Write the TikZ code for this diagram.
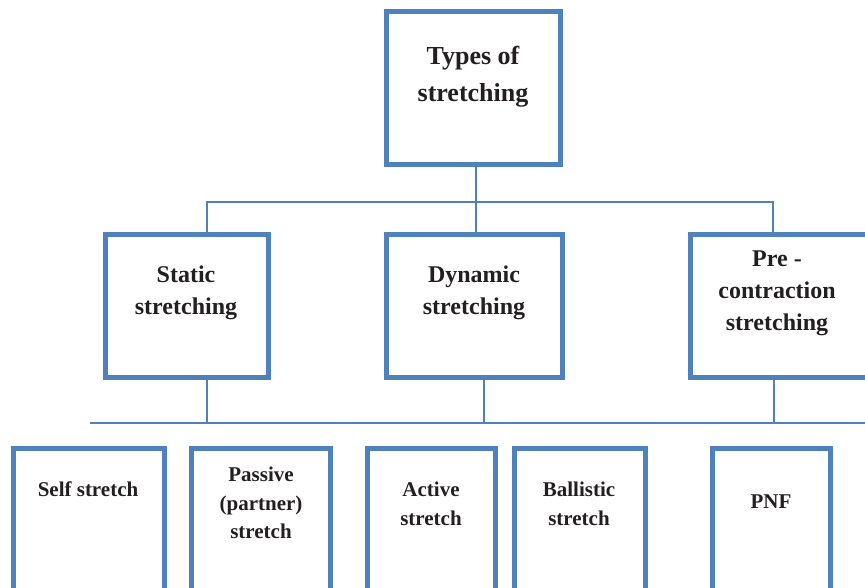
\documentclass[tikz,border=0pt]{standalone}
\usepackage{fontspec}
\setmainfont{Liberation Serif}
\definecolor{boxblue}{HTML}{4F81BD}
\definecolor{inkblack}{HTML}{231F20}

\begin{document}
\begin{tikzpicture}[x=1pt, y=-1pt]
        \tikzset{
            box/.style={rectangle, draw=boxblue, line width=5pt, inner sep=0pt},
            link/.style={draw=boxblue, line width=2pt},
            lbl/.style={anchor=north, align=center, inner sep=0pt, text=inkblack},
            bigtxt/.style={lbl, font=\fontsize{26}{37}\selectfont\bfseries},
            midtxt/.style={lbl, font=\fontsize{24}{32}\selectfont\bfseries},
            smalltxt/.style={lbl, font=\fontsize{21}{28.5}\selectfont\bfseries},
        }
        \clip (0,0) rectangle (865,587);
        
        \node[box, minimum width=174, minimum height=153] (types) at (473.5,88) {};
        
        \node[box, minimum width=163, minimum height=143] (static) at (187,306) {};
        \node[box, minimum width=176, minimum height=143] (dynamic) at (474.5,306) {};
        \node[box, minimum width=182, minimum height=143] (pre) at (781.5,306) {};
        
        \node[box, minimum width=151, minimum height=151] (self) at (89,524) {};
        \node[box, minimum width=139, minimum height=151] (passive) at (261,524) {};
        \node[box, minimum width=128, minimum height=151] (active) at (431.5,524) {};
        \node[box, minimum width=131, minimum height=151] (ballistic) at (580,524) {};
        \node[box, minimum width=118, minimum height=151] (pnf) at (771.5,524) {};
        
        \node[bigtxt] (typestxt) at (473,46) {Types of\\stretching};
        
        \node[midtxt] (statictxt) at (186,266) {Static\\stretching};
        \node[midtxt] (dynamictxt) at (474,266) {Dynamic\\stretching};
        \node[midtxt] (pretxt) at (777,251) {Pre -\\contraction\\stretching};
        
        \node[smalltxt] (selftxt) at (88,482) {Self stretch};
        \node[smalltxt] (passivetxt) at (261,467) {Passive\\(partner)\\stretch};
        \node[smalltxt] (activetxt) at (431,482) {Active\\stretch};
        \node[smalltxt] (ballistictxt) at (579,482) {Ballistic\\stretch};
        \node[smalltxt] (pnftxt) at (771,495) {PNF};
        
        \coordinate (stem) at (476,202);
        \coordinate (topbusl) at (207,202);
        \coordinate (topbusr) at (773,202);
        \coordinate (lowbusl) at (90,423);
        \coordinate (lowbusr) at (870,423);
        \coordinate (dropa) at (207,423);
        \coordinate (dropb) at (484,423);
        \coordinate (dropc) at (774,423);
        
        \draw[link] (types.south -| stem) -- (dynamic.north -| stem);
        \draw[link] (static.north -| topbusl) -- (topbusl) -- (topbusr) -- (pre.north -| topbusr);
        
        \draw[link] (lowbusl) -- (lowbusr);
        \draw[link] (static.south -| dropa) -- (dropa);
        \draw[link] (dynamic.south -| dropb) -- (dropb);
        \draw[link] (pre.south -| dropc) -- (dropc);
            
    \end{tikzpicture}
\end{document}
